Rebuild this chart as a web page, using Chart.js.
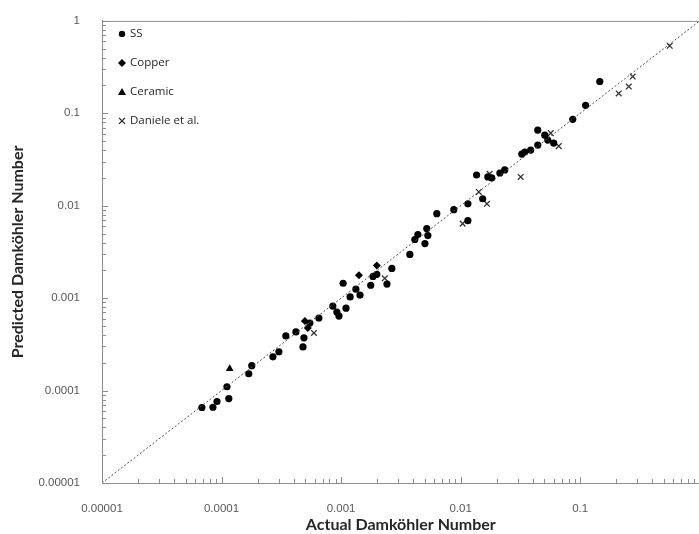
<!DOCTYPE html>
<html lang="en">
<head>
    <meta charset="UTF-8">
    <title>Predicted vs Actual Damköhler Number</title>
    <style>
        body {
            margin: 0;
            padding: 0;
            background-color: white;
            overflow: hidden;
        }
        .chart-container {
            width: 699px;
            height: 534px;
            overflow: hidden;
        }
    </style>
</head>
<body>
    <div class="chart-container">
        <canvas id="myChart" width="705" height="534"></canvas>
    </div>

    <script src="https://cdn.jsdelivr.net/npm/chart.js"></script>
    <script>
        // values (log-log, both axes 1e-5 .. 1)
        const ssX = [6.85e-5, 8.47e-5, 9.16e-5, 1.11e-4, 1.15e-4, 1.69e-4, 1.79e-4, 2.69e-4, 3.02e-4, 3.45e-4,
                     4.19e-4, 4.80e-4, 4.89e-4, 5.48e-4, 6.52e-4, 8.53e-4, 9.22e-4, 9.60e-4, 1.10e-3, 1.04e-3,
                     1.19e-3, 1.33e-3, 1.44e-3, 1.77e-3, 1.85e-3, 1.99e-3, 2.42e-3, 2.66e-3, 3.76e-3, 4.14e-3,
                     4.39e-3, 5.21e-3, 5.32e-3, 5.03e-3, 6.32e-3, 8.77e-3, 1.15e-2, 1.15e-2, 1.36e-2, 1.53e-2,
                     1.69e-2, 1.82e-2, 2.13e-2, 2.34e-2, 3.25e-2, 3.44e-2, 3.86e-2, 4.42e-2, 4.42e-2, 5.06e-2,
                     5.36e-2, 6.01e-2, 8.67e-2, 0.111, 0.146];
        const ssY = [6.56e-5, 6.60e-5, 7.62e-5, 1.10e-4, 8.20e-5, 1.52e-4, 1.86e-4, 2.32e-4, 2.63e-4, 3.90e-4,
                     4.31e-4, 2.97e-4, 3.72e-4, 5.38e-4, 6.10e-4, 8.20e-4, 7.07e-4, 6.40e-4, 7.80e-4, 1.45e-3,
                     1.03e-3, 1.25e-3, 1.08e-3, 1.38e-3, 1.72e-3, 1.81e-3, 1.42e-3, 2.10e-3, 2.97e-3, 4.31e-3,
                     4.88e-3, 5.66e-3, 4.76e-3, 3.90e-3, 8.20e-3, 9.06e-3, 1.05e-2, 6.90e-3, 2.15e-2, 1.19e-2,
                     2.05e-2, 2.00e-2, 2.26e-2, 2.44e-2, 3.62e-2, 3.81e-2, 4.00e-2, 4.53e-2, 6.57e-2, 5.80e-2,
                     5.13e-2, 4.76e-2, 8.62e-2, 0.122, 0.221];

        const copperX = [4.98e-4, 5.27e-4, 1.41e-3, 1.99e-3];
        const copperY = [5.66e-4, 4.76e-4, 1.77e-3, 2.26e-3];

        const ceramicX = [1.17e-4];
        const ceramicY = [1.72e-4];

        const danieleX = [5.93e-4, 2.32e-3, 1.04e-2, 1.42e-2, 1.66e-2, 1.75e-2, 3.18e-2, 5.68e-2, 6.62e-2,
                          0.210, 0.255, 0.275, 0.561];
        const danieleY = [4.20e-4, 1.64e-3, 6.40e-3, 1.41e-2, 1.05e-2, 2.21e-2, 2.05e-2, 6.10e-2, 4.42e-2,
                          0.164, 0.195, 0.250, 0.538];

        const parityLine = [1e-5, 1];
        const tickLabels = ['0.00001', '0.0001', '0.001', '0.01', '0.1', '1'];
        const seriesNames = ['SS', 'Copper', 'Ceramic', 'Daniele et al.'];

        const toPoints = (xs, ys) => xs.map((x, i) => ({ x: x, y: ys[i] }));

        const decadeLabel = (v) => {
            const e = Math.round(Math.log10(v));
            if (Math.abs(Math.log10(v) - e) > 1e-6) return '';
            return tickLabels[e + 5] || '';
        };

        // inward minor/major ticks + top frame line
        const axisTicks = {
            id: 'axisTicks',
            afterDraw(chart) {
                const { ctx, chartArea } = chart;
                const xs = chart.scales.x, ys = chart.scales.y;
                ctx.save();
                ctx.strokeStyle = '#8c8c8c';
                ctx.lineWidth = 1;
                ctx.beginPath();
                ctx.moveTo(chartArea.left, chartArea.top + 0.5);
                ctx.lineTo(chartArea.right, chartArea.top + 0.5);
                for (let e = -5; e <= 0; e++) {
                    for (let m = 1; m <= 9; m++) {
                        const v = m * Math.pow(10, e);
                        if (v > 1.0001) break;
                        const len = m === 1 ? 6 : 4;
                        const px = Math.round(xs.getPixelForValue(v)) + 0.5;
                        ctx.moveTo(px, chartArea.bottom);
                        ctx.lineTo(px, chartArea.bottom - len);
                        const py = Math.round(ys.getPixelForValue(v)) + 0.5;
                        ctx.moveTo(chartArea.left, py);
                        ctx.lineTo(chartArea.left + len, py);
                    }
                }
                ctx.stroke();
                ctx.restore();
            }
        };

        // legend drawn inside the plot, top-left
        const innerLegend = {
            id: 'innerLegend',
            afterDraw(chart) {
                const { ctx, chartArea } = chart;
                ctx.save();
                ctx.font = '11.5px "Open Sans", sans-serif';
                ctx.textBaseline = 'middle';
                seriesNames.forEach((name, i) => {
                    const x = chartArea.left + 20;
                    const y = chartArea.top + 13 + i * 29;
                    ctx.fillStyle = '#000';
                    ctx.strokeStyle = '#222';
                    ctx.beginPath();
                    if (i === 0) {
                        ctx.arc(x, y, 3.2, 0, Math.PI * 2);
                        ctx.fill();
                    } else if (i === 1) {
                        ctx.moveTo(x, y - 4); ctx.lineTo(x + 4, y); ctx.lineTo(x, y + 4); ctx.lineTo(x - 4, y);
                        ctx.closePath();
                        ctx.fill();
                    } else if (i === 2) {
                        ctx.moveTo(x, y - 4); ctx.lineTo(x + 4, y + 3); ctx.lineTo(x - 4, y + 3);
                        ctx.closePath();
                        ctx.fill();
                    } else {
                        ctx.lineWidth = 1.3;
                        ctx.moveTo(x - 3, y - 3); ctx.lineTo(x + 3, y + 3);
                        ctx.moveTo(x + 3, y - 3); ctx.lineTo(x - 3, y + 3);
                        ctx.stroke();
                    }
                    ctx.fillStyle = '#262626';
                    ctx.fillText(name, x + 8, y);
                });
                ctx.restore();
            }
        };

        const ctx = document.getElementById('myChart').getContext('2d');
        const chart = new Chart(ctx, {
            type: 'scatter',
            data: {
                datasets: [
                    {
                        type: 'line',
                        label: 'parity',
                        data: toPoints(parityLine, parityLine),
                        borderColor: '#555',
                        borderWidth: 1,
                        borderDash: [2, 2],
                        pointRadius: 0,
                        fill: false
                    },
                    {
                        label: seriesNames[0],
                        data: toPoints(ssX, ssY),
                        pointStyle: 'circle',
                        pointRadius: 3.6,
                        backgroundColor: '#000',
                        borderColor: '#000',
                        borderWidth: 0
                    },
                    {
                        label: seriesNames[1],
                        data: toPoints(copperX, copperY),
                        pointStyle: 'rectRot',
                        pointRadius: 4,
                        backgroundColor: '#000',
                        borderColor: '#000',
                        borderWidth: 0
                    },
                    {
                        label: seriesNames[2],
                        data: toPoints(ceramicX, ceramicY),
                        pointStyle: 'triangle',
                        pointRadius: 4.5,
                        backgroundColor: '#000',
                        borderColor: '#000',
                        borderWidth: 0
                    },
                    {
                        label: seriesNames[3],
                        data: toPoints(danieleX, danieleY),
                        pointStyle: 'crossRot',
                        pointRadius: 4,
                        backgroundColor: '#333',
                        borderColor: '#333',
                        borderWidth: 1.3
                    }
                ]
            },
            options: {
                responsive: false,
                animation: false,
                clip: false,
                layout: {
                    padding: { top: 18, right: 0, left: 0, bottom: 0 }
                },
                plugins: {
                    legend: { display: false },
                    tooltip: { enabled: false }
                },
                scales: {
                    x: {
                        type: 'logarithmic',
                        min: 1e-5,
                        max: 1,
                        grid: { display: false },
                        border: { display: true, color: '#8c8c8c', width: 1 },
                        afterFit(scale) {
                            scale.height = 51;
                            scale.paddingRight = 0;
                        },
                        ticks: {
                            autoSkip: false,
                            maxRotation: 0,
                            padding: 11,
                            color: '#595959',
                            font: { family: 'Liberation Sans, Arial, sans-serif', size: 11.5 },
                            callback: (v) => (v >= 0.999 ? '' : decadeLabel(v))
                        },
                        title: {
                            display: true,
                            text: 'Actual Damköhler Number',
                            color: '#262626',
                            padding: { top: 0, bottom: 0 },
                            font: { family: 'Lato, sans-serif', size: 16, weight: 'bold', lineHeight: 1.1 }
                        }
                    },
                    y: {
                        type: 'logarithmic',
                        min: 1e-5,
                        max: 1,
                        grid: { display: false },
                        border: { display: true, color: '#8c8c8c', width: 1 },
                        afterFit(scale) { scale.width = 102; },
                        ticks: {
                            autoSkip: false,
                            padding: 14,
                            color: '#595959',
                            font: { family: 'Liberation Sans, Arial, sans-serif', size: 11.5 },
                            callback: (v) => decadeLabel(v)
                        },
                        title: {
                            display: true,
                            text: 'Predicted Damköhler Number',
                            color: '#262626',
                            padding: { top: 9, bottom: 0 },
                            font: { family: 'Lato, sans-serif', size: 16, weight: 'bold', lineHeight: 1.1 }
                        }
                    }
                }
            },
            plugins: [axisTicks, innerLegend]
        });
    </script>
</body>
</html>
